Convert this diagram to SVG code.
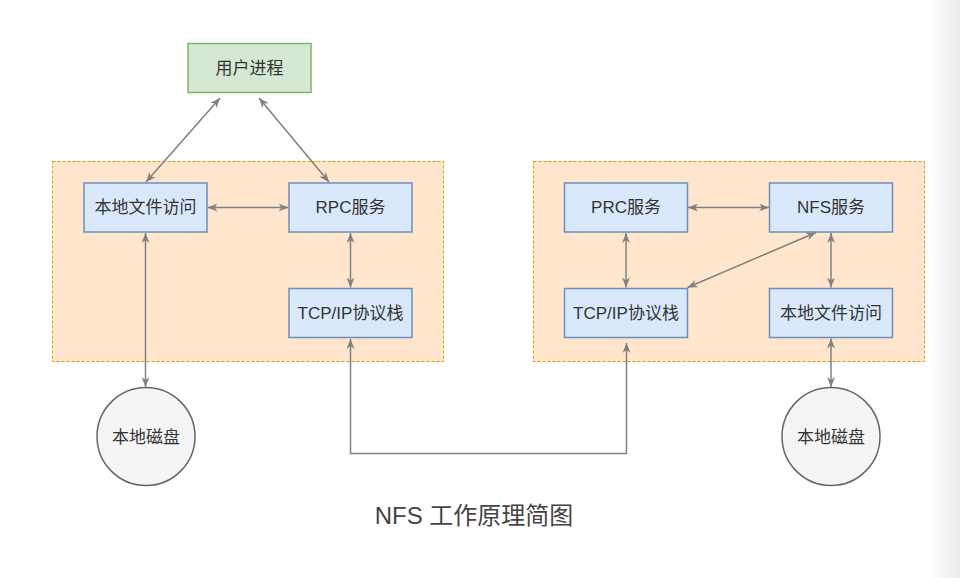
<svg xmlns="http://www.w3.org/2000/svg" width="960" height="578" viewBox="0 0 960 578">
  <defs>
    <linearGradient id="edge" x1="0" y1="0" x2="1" y2="0">
      <stop offset="0" stop-color="#ffffff"/>
      <stop offset="1" stop-color="#ececec"/>
    </linearGradient>
    <marker id="arr" viewBox="0 0 10 8" refX="10" refY="4" markerWidth="10" markerHeight="8" orient="auto-start-reverse" markerUnits="userSpaceOnUse">
      <path d="M0,0 L10,4 L0,8 L3,4 z" fill="#808080"/>
    </marker>
  </defs>
  <style>
    .container { fill: #ffe6cc; stroke: #d79b00; stroke-width: 1; stroke-dasharray: 3 2; }
    .box { fill: #dae8fc; stroke: #6c8ebf; stroke-width: 1.5; }
    .green { fill: #d5e8d4; stroke: #82b366; stroke-width: 1.5; }
    .disk { fill: #f5f5f5; stroke: #666666; stroke-width: 1.5; }
    .lbl { font-family: "Liberation Sans", "Noto Sans CJK SC", sans-serif; font-size: 17px; fill: #333333; text-anchor: middle; dominant-baseline: central; }
    .title { font-family: "Liberation Sans", "Noto Sans CJK SC", sans-serif; font-size: 24px; fill: #444444; text-anchor: middle; }
    .edge { fill: none; stroke: #808080; stroke-width: 1.5; marker-start: url(#arr); marker-end: url(#arr); }
  </style>
  <rect x="0" y="0" width="960" height="578" fill="#ffffff"/>
  <rect x="928" y="0" width="32" height="578" fill="url(#edge)"/>

  <g id="server-container">
    <rect class="container" x="52.5" y="161.5" width="391" height="200"/>
  </g>
  <g id="client-container">
    <rect class="container" x="533.5" y="161.5" width="391" height="200"/>
  </g>

  <g id="user-process">
    <rect class="green" x="188" y="43.5" width="123" height="49"/>
    <text class="lbl" x="249.5" y="68">用户进程</text>
  </g>
  <g id="local-file-left">
    <rect class="box" x="84" y="183" width="123" height="49"/>
    <text class="lbl" x="145.5" y="207.5">本地文件访问</text>
  </g>
  <g id="rpc-left">
    <rect class="box" x="289" y="183" width="123" height="49"/>
    <text class="lbl" x="350.5" y="207.5">RPC服务</text>
  </g>
  <g id="tcp-left">
    <rect class="box" x="289" y="288.5" width="123" height="49"/>
    <text class="lbl" x="350.5" y="313">TCP/IP协议栈</text>
  </g>
  <g id="prc-right">
    <rect class="box" x="564.5" y="183" width="123" height="49"/>
    <text class="lbl" x="626" y="207.5">PRC服务</text>
  </g>
  <g id="nfs-right">
    <rect class="box" x="769.5" y="183" width="123" height="49"/>
    <text class="lbl" x="831" y="207.5">NFS服务</text>
  </g>
  <g id="tcp-right">
    <rect class="box" x="564.5" y="288.5" width="123" height="49"/>
    <text class="lbl" x="626" y="313">TCP/IP协议栈</text>
  </g>
  <g id="local-file-right">
    <rect class="box" x="769.5" y="288.5" width="123" height="49"/>
    <text class="lbl" x="831" y="313">本地文件访问</text>
  </g>
  <g id="disk-left">
    <circle class="disk" cx="146" cy="436.5" r="49"/>
    <text class="lbl" x="146" y="437">本地磁盘</text>
  </g>
  <g id="disk-right">
    <circle class="disk" cx="831" cy="436.5" r="49"/>
    <text class="lbl" x="831" y="437">本地磁盘</text>
  </g>

  <g id="connectors">
    <line class="edge" x1="220" y1="98" x2="146" y2="182"/>
    <line class="edge" x1="259" y1="98" x2="329" y2="182"/>
    <line class="edge" x1="207.5" y1="207.5" x2="288.5" y2="207.5"/>
    <line class="edge" x1="350.5" y1="233" x2="350.5" y2="287.5"/>
    <line class="edge" x1="145.5" y1="233" x2="145.5" y2="387"/>
    <path class="edge" d="M350.5,339 V453.5 H626.5 V343"/>
    <line class="edge" x1="688" y1="207.5" x2="769" y2="207.5"/>
    <line class="edge" x1="626" y1="233" x2="626" y2="287.5"/>
    <line class="edge" x1="816" y1="232.5" x2="687.5" y2="287.5"/>
    <line class="edge" x1="831" y1="233" x2="831" y2="287.5"/>
    <line class="edge" x1="831" y1="338.5" x2="831" y2="387"/>
  </g>

  <text class="title" x="474" y="524">NFS 工作原理简图</text>
</svg>
